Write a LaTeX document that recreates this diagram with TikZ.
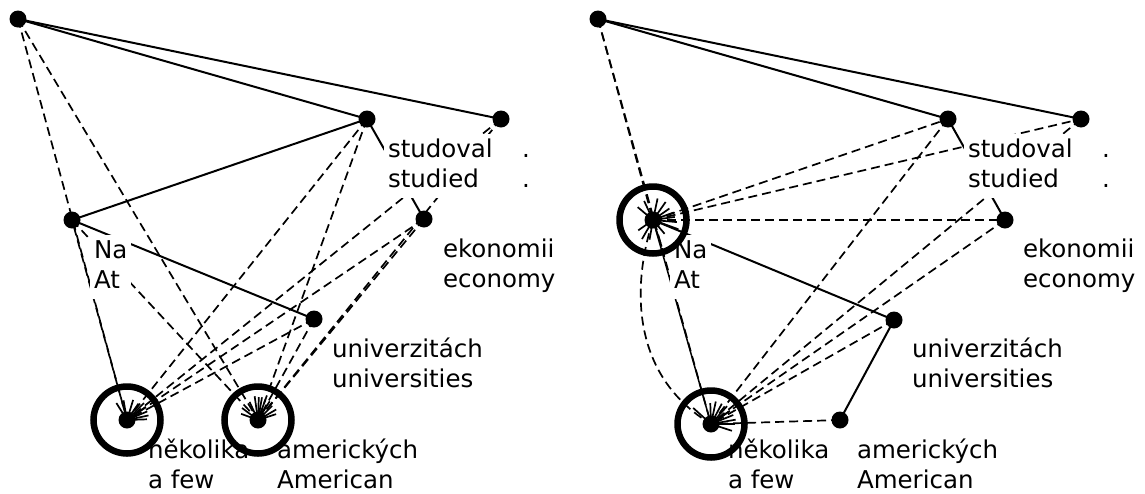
\documentclass[tikz,border=0pt]{standalone}
\usepackage{fontspec}
\setmainfont{DejaVu Sans}
\begin{document}
\begin{tikzpicture}[x=1pt,y=-1pt,
  dot/.style={circle,fill=black,inner sep=0pt,minimum size=17pt},
  lab/.style={fill=white,inner xsep=4pt,inner ysep=2pt,outer sep=0pt,anchor=base west,
    font=\fontsize{24.5}{30}\selectfont},
  tree/.style={line width=2pt},
  link/.style={line width=1.7pt,dash pattern=on 9pt off 5pt},
  ring/.style={line width=6.5pt},
  spike/.style={line width=1.7pt}]

\useasboundingbox (0,0) rectangle (1145,493);

% ---------- left tree: word positions ----------
\coordinate (lR) at (18,19);
\coordinate (lS) at (367,119);
\coordinate (lP) at (501,119);
\coordinate (lN) at (72,220);
\coordinate (lE) at (424,219);
\coordinate (lU) at (314,319);
\coordinate (lK) at (127,420);
\coordinate (lA) at (258,420);

% ---------- right tree: word positions ----------
\coordinate (rR) at (598,19);
\coordinate (rS) at (948,119);
\coordinate (rP) at (1081,119);
\coordinate (rN) at (653,220);
\coordinate (rE) at (1005,220);
\coordinate (rU) at (894,320);
\coordinate (rK) at (711,424);
\coordinate (rA) at (840,420);

% ---------- left tree: edges ----------
\draw[tree] (lR) -- (lS);
\draw[tree] (lR) -- (lP);
\draw[tree] (lS) -- (lN);
\draw[tree] (lS) -- (lE);
\draw[tree] (lN) -- (lU);
\draw[link] (lR) -- (lK);
\draw[link,dash phase=7pt] (lN) -- (lK);
\draw[link] (lR) -- (lA);
\draw[link] (lN) -- (lA);
\draw[link] (lS) -- (lK);
\draw[link] (lS) -- (lA);
\draw[link] (lE) -- (lK);
\draw[link] (lE) -- (lA);
\draw[link] (lP) -- (lK);
\draw[link] (lP) -- (lA);
\draw[link] (lU) -- (lK);
\draw[link] (lU) -- (lA);

% ---------- right tree: edges ----------
\draw[tree] (rR) -- (rS);
\draw[tree] (rR) -- (rP);
\draw[tree] (rS) -- (rE);
\draw[tree] (rN) -- (rU);
\draw[tree] (rU) -- (rA);
\draw[line width=1.5pt] (rN) -- (rK);
\draw[link] (rR) -- (rN);
\draw[link] (rR) -- (rK);
\draw[link] (rN) -- (rS);
\draw[link] (rN) -- (rP);
\draw[link] (rN) -- (rE);
\draw[link] (rS) -- (rK);
\draw[link] (rP) -- (rK);
\draw[link] (rE) -- (rK);
\draw[link] (rU) -- (rK);
\draw[link] (rA) -- (rK);
\draw[link] (rN) .. controls (632,285) and (630,375) .. (rK);

% ---------- word labels ----------
\node[lab] (lSt) at (384,157) {\begin{tabular}[t]{@{}l@{}}studoval\\studied\end{tabular}};
\node[lab] (lPt) at (518,157) {\begin{tabular}[t]{@{}l@{}}.\\.\end{tabular}};
\node[lab] (lNt) at (90,258) {\begin{tabular}[t]{@{}l@{}}Na\\At\end{tabular}};
\node[lab] (lEt) at (439,257) {\begin{tabular}[t]{@{}l@{}}ekonomii\\economy\end{tabular}};
\node[lab] (lUt) at (328,357) {\begin{tabular}[t]{@{}l@{}}univerzitách\\universities\end{tabular}};
\node[lab] (lKt) at (144,458) {\begin{tabular}[t]{@{}l@{}}několika\\a few\end{tabular}};
\node[lab] (lAt) at (273,458) {\begin{tabular}[t]{@{}l@{}}amerických\\American\end{tabular}};

\node[lab] (rSt) at (964,157) {\begin{tabular}[t]{@{}l@{}}studoval\\studied\end{tabular}};
\node[lab] (rPt) at (1098,157) {\begin{tabular}[t]{@{}l@{}}.\\.\end{tabular}};
\node[lab] (rNt) at (670,258) {\begin{tabular}[t]{@{}l@{}}Na\\At\end{tabular}};
\node[lab] (rEt) at (1019,257) {\begin{tabular}[t]{@{}l@{}}ekonomii\\economy\end{tabular}};
\node[lab] (rUt) at (908,357) {\begin{tabular}[t]{@{}l@{}}univerzitách\\universities\end{tabular}};
\node[lab] (rKt) at (724,458) {\begin{tabular}[t]{@{}l@{}}několika\\a few\end{tabular}};
\node[lab] (rAt) at (853,458) {\begin{tabular}[t]{@{}l@{}}amerických\\American\end{tabular}};

% ---------- word dots ----------
\foreach \w in {lR,lS,lP,lN,lE,lU,lK,lA,rR,rS,rP,rN,rE,rU,rK,rA}
  \node[dot] (\w d) at (\w) {};

% ---------- incoming-edge fans ----------
\foreach \a/\l in {122/20,100/20,73/21,55/20,45/24,35/23,23/22,12/22,2/20}
  \draw[spike] (lK) -- ++(\a:\l pt);
\foreach \a/\l in {160/18,143/20,115/20,98/24,88/23,80/23,70/22,58/22,45/20,30/21,18/19}
  \draw[spike] (lA) -- ++(\a:\l pt);
\foreach \a/\l in {115/21,78/22,55/22,35/20,20/22,8/22,-5/24,-20/27,-50/18,-72/28,-100/20,-120/22,-145/18,140/20}
  \draw[spike] (rN) -- ++(\a:\l pt);
\foreach \a/\l in {138/24,92/21,78/23,62/23,48/24,35/23,22/24,10/25,0/24,-18/22}
  \draw[spike] (rK) -- ++(\a:\l pt);

% ---------- highlighted words ----------
\draw[ring] (lK) circle[radius=33.5pt];
\draw[ring] (lA) circle[radius=33.5pt];
\draw[ring] (rN) circle[radius=33.5pt];
\draw[ring] (rK) circle[radius=33.5pt];
\end{tikzpicture}
\end{document}
